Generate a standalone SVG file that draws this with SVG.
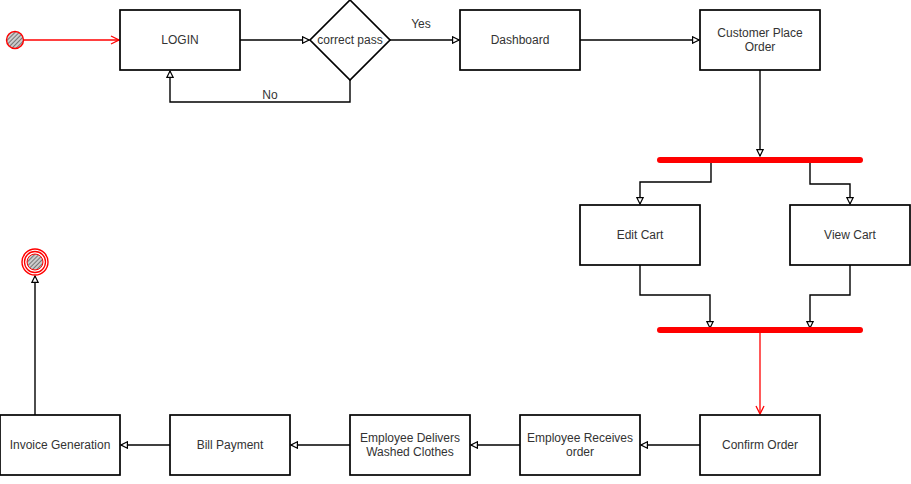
<svg xmlns="http://www.w3.org/2000/svg" width="911" height="484" viewBox="0 0 911 484">
<style>
.box{fill:#fff;stroke:#000;stroke-width:1.7}
.lbl{font-family:"Liberation Sans",Arial,sans-serif;font-size:12px;fill:#333;text-anchor:middle}
.con{fill:none;stroke:#000;stroke-width:1.4}
.red{fill:none;stroke:#f00;stroke-width:1.3}
.bar{stroke:#f00;stroke-width:6;stroke-linecap:round}
</style>
<defs>
<pattern id="hatch" width="3" height="3" patternUnits="userSpaceOnUse" patternTransform="rotate(45)">
<rect width="3" height="3" fill="#ccc"/>
<line x1="0" y1="0" x2="0" y2="3" stroke="#444" stroke-width="1.3"/>
</pattern>
<marker id="arr" viewBox="0 0 10 10" refX="9" refY="5" markerWidth="8" markerHeight="8" orient="auto" markerUnits="userSpaceOnUse">
<path d="M1,1 L9,5 L1,9 Z" fill="#fff" stroke="#000" stroke-width="1.5"/>
</marker>
<marker id="arrR" viewBox="0 0 10 10" refX="9" refY="5" markerWidth="10" markerHeight="10" orient="auto" markerUnits="userSpaceOnUse">
<path d="M1,1 L9,5 L1,9" fill="none" stroke="#f00" stroke-width="1.3"/>
</marker>
</defs>

<g id="connectors">
<path class="red" d="M23,40 H119" marker-end="url(#arrR)"/>
<path class="con" d="M240,40 H309" marker-end="url(#arr)"/>
<path class="con" d="M390,40 H459" marker-end="url(#arr)"/>
<path class="con" d="M350,80 V102 H170 V71" marker-end="url(#arr)"/>
<path class="con" d="M580,40 H699" marker-end="url(#arr)"/>
<path class="con" d="M760,70 V156" marker-end="url(#arr)"/>
<path class="con" d="M711,162 V182 H640 V204" marker-end="url(#arr)"/>
<path class="con" d="M810,162 V184 H850 V204" marker-end="url(#arr)"/>
<path class="con" d="M640,265 V295 H710 V328" marker-end="url(#arr)"/>
<path class="con" d="M850,265 V295 H810 V328" marker-end="url(#arr)"/>
<path class="red" d="M760,333 V414" marker-end="url(#arrR)"/>
<path class="con" d="M700,445 H641" marker-end="url(#arr)"/>
<path class="con" d="M520,445 H471" marker-end="url(#arr)"/>
<path class="con" d="M350,445 H291" marker-end="url(#arr)"/>
<path class="con" d="M170,445 H121" marker-end="url(#arr)"/>
<path class="con" d="M35,415 V276" marker-end="url(#arr)"/>
<text class="lbl" x="421" y="28">Yes</text>
<text class="lbl" x="270" y="99">No</text>
</g>

<g id="start">
<circle cx="15" cy="40" r="8.5" fill="url(#hatch)" stroke="#f00" stroke-width="1.4"/>
</g>

<g id="login">
<rect class="box" x="120" y="10" width="120" height="60"/>
<text class="lbl" x="180" y="44">LOGIN</text>
</g>

<g id="correct-pass">
<path class="box" d="M350,0 L390,40 L350,80 L310,40 Z"/>
<text class="lbl" x="350" y="44">correct pass</text>
</g>

<g id="dashboard">
<rect class="box" x="460" y="10" width="120" height="60"/>
<text class="lbl" x="520" y="44">Dashboard</text>
</g>

<g id="customer-place-order">
<rect class="box" x="700" y="10" width="120" height="60"/>
<text class="lbl" x="760" y="37">Customer Place</text>
<text class="lbl" x="760" y="51">Order</text>
</g>

<g id="fork">
<line class="bar" x1="660" y1="160" x2="860" y2="160"/>
</g>

<g id="edit-cart">
<rect class="box" x="580" y="205" width="120" height="60"/>
<text class="lbl" x="640" y="239">Edit Cart</text>
</g>

<g id="view-cart">
<rect class="box" x="790" y="205" width="120" height="60"/>
<text class="lbl" x="850" y="239">View Cart</text>
</g>

<g id="join">
<line class="bar" x1="660" y1="330" x2="860" y2="330"/>
</g>

<g id="confirm-order">
<rect class="box" x="700" y="415" width="120" height="60"/>
<text class="lbl" x="760" y="449">Confirm Order</text>
</g>

<g id="employee-receives">
<rect class="box" x="520" y="415" width="120" height="60"/>
<text class="lbl" x="580" y="442">Employee Receives</text>
<text class="lbl" x="580" y="456">order</text>
</g>

<g id="employee-delivers">
<rect class="box" x="350" y="415" width="120" height="60"/>
<text class="lbl" x="410" y="442">Employee Delivers</text>
<text class="lbl" x="410" y="456">Washed Clothes</text>
</g>

<g id="bill-payment">
<rect class="box" x="170" y="415" width="120" height="60"/>
<text class="lbl" x="230" y="449">Bill Payment</text>
</g>

<g id="invoice-generation">
<rect class="box" x="0" y="415" width="120" height="60"/>
<text class="lbl" x="60" y="449">Invoice Generation</text>
</g>

<g id="end">
<circle cx="35" cy="262" r="13" fill="#fff" stroke="#f00" stroke-width="1.4"/>
<circle cx="35" cy="262" r="10.5" fill="none" stroke="#f00" stroke-width="1.3"/>
<circle cx="35" cy="262" r="8" fill="url(#hatch)" stroke="#f00" stroke-width="1"/>
</g>
</svg>
